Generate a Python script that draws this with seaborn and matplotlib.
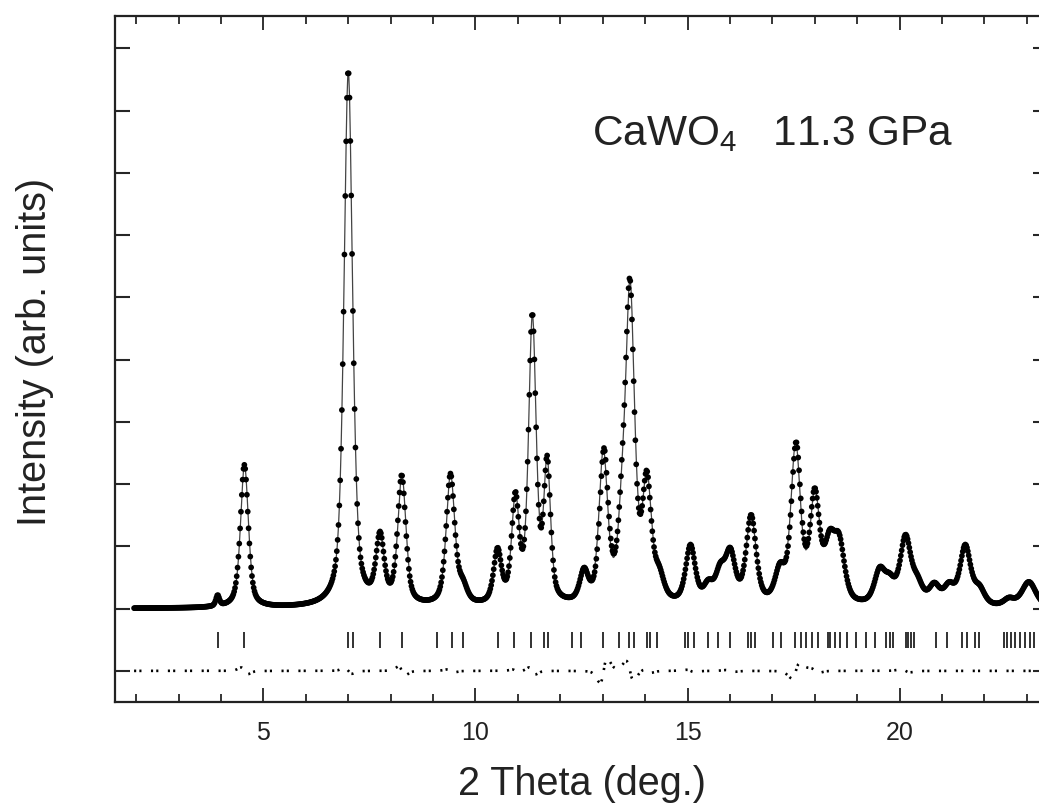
import numpy as np
import pandas as pd
import matplotlib
matplotlib.use("Agg")
import matplotlib.pyplot as plt
import seaborn as sns
from matplotlib.ticker import MultipleLocator, NullFormatter, FixedLocator

# ---------------- data ----------------
# observed Bragg peaks: position (deg 2theta), apex intensity (arb.), FWHM (deg)
peak_pos = [3.92, 4.55, 7.00, 7.75, 8.26, 9.41, 9.70, 10.52, 10.94, 11.34,
            11.69, 12.56, 13.03, 13.45, 13.64, 14.04, 14.33, 15.07, 15.49,
            15.77, 16.01, 16.50, 17.18, 17.56, 18.00, 18.35, 18.58, 19.53,
            19.77, 20.14, 20.42, 20.82, 21.17, 21.55, 21.88, 22.58, 23.05]
peak_height = [0.22, 2.31, 8.65, 1.24, 2.15, 2.17, 0.50, 0.98, 1.88, 4.75,
               2.46, 0.66, 2.58, 2.39, 5.31, 2.22, 0.70, 1.03, 0.47,
               0.74, 0.98, 1.51, 0.74, 2.68, 1.94, 1.27, 1.20, 0.67,
               0.57, 1.19, 0.55, 0.42, 0.43, 1.03, 0.39, 0.18, 0.43]
peak_fwhm = [0.10, 0.22, 0.24, 0.23, 0.23, 0.24, 0.25, 0.22, 0.21, 0.21,
             0.19, 0.24, 0.24, 0.22, 0.25, 0.25, 0.27, 0.27, 0.27,
             0.27, 0.28, 0.28, 0.28, 0.27, 0.27, 0.30, 0.30, 0.30,
             0.30, 0.30, 0.30, 0.30, 0.30, 0.30, 0.30, 0.30, 0.40]
# misfit of the calculated pattern (shift of the calculated peak, deg)
calc_shift = [0.0, 0.004, 0.001, 0.0, 0.006, 0.002, 0.0, 0.0, 0.002, 0.002,
              0.0, 0.0, -0.015, 0.0, 0.006, 0.003, 0.0, 0.004, 0.0,
              0.0, 0.004, 0.0, 0.0, -0.01, 0.004, 0.0, 0.0, 0.0,
              0.0, 0.005, 0.0, 0.0, 0.0, 0.0, 0.0, 0.0, 0.0]
# reflection markers (deg 2theta)
refl_pos = [3.92, 4.55, 7.00, 7.11, 7.75, 8.26, 9.10, 9.44, 9.70, 10.52,
            10.92, 11.31, 11.62, 11.70, 12.28, 12.49, 13.00, 13.38, 13.62,
            13.73, 14.04, 14.11, 14.27, 14.93, 15.02, 15.16, 15.49, 15.73,
            16.00, 16.43, 16.50, 16.60, 17.02, 17.20, 17.53, 17.68, 17.79,
            17.93, 18.07, 18.31, 18.36, 18.47, 18.59, 18.76, 18.97, 19.20,
            19.41, 19.67, 19.77, 19.84, 20.14, 20.20, 20.28, 20.35, 20.85,
            21.13, 21.48, 21.60, 21.78, 21.88, 22.46, 22.53, 22.63, 22.72,
            22.84, 22.96, 23.08, 23.17, 23.30, 23.40]
scan_start, scan_stop, scan_step = 1.95, 23.6, 0.02
background = 0.0
diff_offset = -1.0
marker_lo, marker_hi = -0.63, -0.37
title_text = "CaWO$_\\mathregular{4}$   11.3 GPa"
x_label = "2 Theta (deg.)"
y_label = "Intensity (arb. units)"
x_ticks = [5, 10, 15, 20]

# ---------------- pattern construction ----------------
eta = 0.55


def pvoigt(x, x0, w):
    u = (np.asarray(x) - x0) / w
    g = np.exp(-4 * np.log(2) * u ** 2)
    l = 1.0 / (1 + 4 * u ** 2)
    return eta * l + (1 - eta) * g


pos = np.array(peak_pos)
hgt = np.array(peak_height)
fw = np.array(peak_fwhm)
M = np.array([[pvoigt(pi, pj, wj) for pj, wj in zip(pos, fw)] for pi in pos])
amp = np.linalg.solve(M, hgt - background)
amp = np.clip(amp, 0, None)

tt = np.arange(scan_start, scan_stop, scan_step)
obs = background + sum(a * pvoigt(tt, p, w) for a, p, w in zip(amp, pos, fw))
calc = background + sum(a * pvoigt(tt, p + s, w)
                        for a, p, w, s in zip(amp, pos, fw, calc_shift))
diff = obs - calc + diff_offset

df = pd.DataFrame({"tt": tt, "obs": obs, "calc": calc, "diff": diff})

# ---------------- figure ----------------
sns.set_theme(style="ticks")
plt.rcParams["font.family"] = ["Liberation Sans", "DejaVu Sans"]
plt.rcParams["mathtext.default"] = "regular"

fig = plt.figure(figsize=(10.39, 8.11), dpi=100)
W, H = 1039, 811
ax = fig.add_axes([115 / W, 1 - 702 / H, 933 / W, 686 / H])

sns.lineplot(data=df, x="tt", y="calc", ax=ax, color="#444444", lw=0.9,
             sort=False, estimator=None, zorder=2)
sns.scatterplot(data=df, x="tt", y="obs", ax=ax, color="black", s=17,
                edgecolor="none", linewidth=0, zorder=3)
sns.lineplot(data=df, x="tt", y="diff", ax=ax, color="black", lw=1.9,
             sort=False, estimator=None, zorder=3,
             linestyle=(0, (0.8, 1.2, 0.8, 3.6)))
ax.vlines(refl_pos, marker_lo, marker_hi, color="#222222", lw=1.3, zorder=2)

ax.set_xlim(1.5, 23.5)
ax.set_ylim(-1.5, 9.52)
ax.xaxis.set_major_locator(FixedLocator(x_ticks))
ax.xaxis.set_minor_locator(MultipleLocator(1))
ax.yaxis.set_major_locator(MultipleLocator(1))
ax.yaxis.set_major_formatter(NullFormatter())
ax.tick_params(axis="x", which="major", direction="in", length=10, width=1.3,
               top=True, bottom=True, labelsize=18, pad=14, colors="#222222")
ax.tick_params(axis="x", which="minor", direction="in", length=5.8, width=1.3,
               top=True, bottom=True)
ax.tick_params(axis="y", which="major", direction="in", length=10.5, width=1.5,
               left=True, right=True)
for sp in ax.spines.values():
    sp.set_linewidth(1.6)
    sp.set_color("#222222")

ax.set_xlabel(x_label, fontsize=28.5, labelpad=14, color="#222222")
ax.set_ylabel("")
fig.text(35 / W, 1 - 352 / H, y_label, rotation=90, fontsize=28.5,
         ha="center", va="center", color="#222222")

ax.text(21.27, 7.45, title_text, fontsize=30.5, ha="right", va="baseline",
        color="#222222")

fig.savefig("out.png", dpi=100)
